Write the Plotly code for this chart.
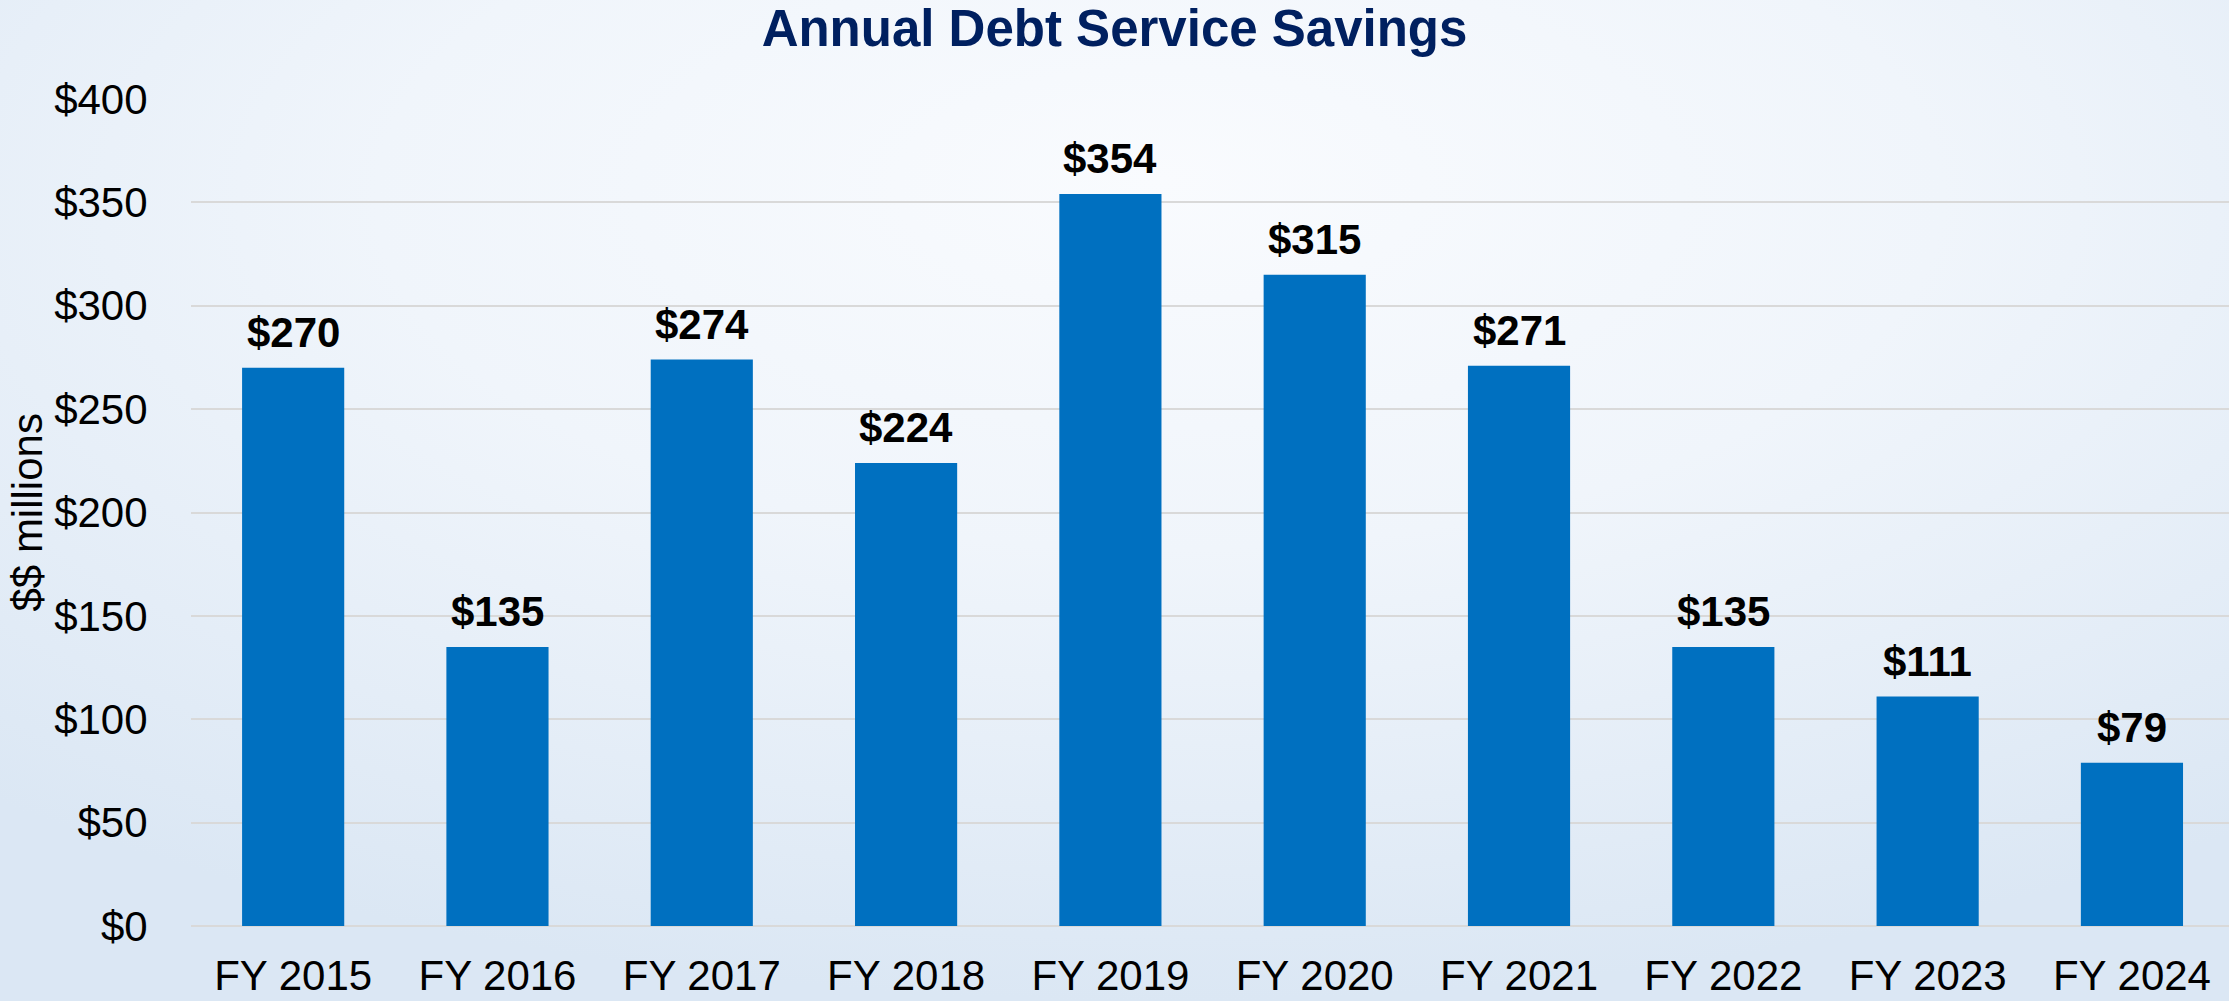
import base64
import plotly.graph_objects as go

categories = ["FY 2015", "FY 2016", "FY 2017", "FY 2018", "FY 2019",
              "FY 2020", "FY 2021", "FY 2022", "FY 2023", "FY 2024"]
savings = [270, 135, 274, 224, 354, 315, 271, 135, 111, 79]
y_ticks = [0, 50, 100, 150, 200, 250, 300, 350, 400]
y_tick_labels = ["$" + str(v) for v in y_ticks]
bar_labels = ["$" + str(v) for v in savings]

W, H = 2229, 1001
ML, MR, MT, MB = 191, 0, 99, 75
PW, PH = W - ML - MR, H - MT - MB

FONT = "Liberation Sans, Arial, Helvetica, sans-serif"

svg = f'''<svg xmlns="http://www.w3.org/2000/svg" width="{W}" height="{H}" viewBox="0 0 {W} {H}" preserveAspectRatio="none">
<defs><radialGradient id="g" cx="0.52" cy="0.22" r="0.78" fx="0.52" fy="0.18">
<stop offset="0" stop-color="#f9fbfe"/>
<stop offset="0.45" stop-color="#f0f5fb"/>
<stop offset="1" stop-color="#dbe7f4"/>
</radialGradient></defs>
<rect width="{W}" height="{H}" fill="url(#g)"/></svg>'''
bg_uri = "data:image/svg+xml;base64," + base64.b64encode(svg.encode()).decode()

fig = go.Figure()
fig.add_trace(go.Bar(
    x=categories, y=savings,
    marker=dict(color="#0070C0", line=dict(width=0)),
    hoverinfo="skip",
))

annotations = []
for c, v, t in zip(categories, savings, bar_labels):
    annotations.append(dict(
        x=c, y=v, xref="x", yref="y", text=t, showarrow=False,
        yanchor="bottom", xanchor="center", yshift=10,
        font=dict(family=FONT, size=42, color="#000000", weight="bold"),
    ))
annotations.append(dict(
    x=0, y=0.5, xref="paper", yref="paper", text="$$ millions",
    showarrow=False, textangle=-90, xanchor="center", yanchor="middle",
    xshift=27 - ML, font=dict(family=FONT, size=42, color="#000000"),
))

fig.update_layout(
    width=W, height=H,
    autosize=False,
    margin=dict(l=ML, r=MR, t=MT, b=MB, pad=0, autoexpand=False),
    paper_bgcolor="#eaf1f9",
    plot_bgcolor="rgba(0,0,0,0)",
    showlegend=False,
    bargap=0.5,
    title=dict(
        text="<b>Annual Debt Service Savings</b>",
        x=0.5, xref="container", xanchor="center",
        y=1 - 10 / H, yref="container", yanchor="top",
        font=dict(family=FONT, size=51, color="#002060"),
        automargin=False,
    ),
    xaxis=dict(
        type="category", range=[-0.5, 9.475], automargin=False,
        showgrid=False, showline=False, zeroline=False,
        ticks="outside", ticklen=13, tickcolor="rgba(0,0,0,0)",
        tickfont=dict(family=FONT, size=42, color="#000000"),
        fixedrange=True,
    ),
    yaxis=dict(
        range=[0, 400], tickmode="array", tickvals=y_ticks, ticktext=y_tick_labels,
        automargin=False,
        showgrid=True, gridcolor="#d9d9d9", gridwidth=2,
        zeroline=True, zerolinecolor="#d9d9d9", zerolinewidth=2,
        showline=False,
        ticks="outside", ticklen=34, tickcolor="rgba(0,0,0,0)",
        tickfont=dict(family=FONT, size=42, color="#000000"),
        fixedrange=True,
    ),
    images=[dict(
        source=bg_uri, xref="paper", yref="paper",
        x=-ML / PW, y=1 + MT / PH, sizex=W / PW, sizey=H / PH,
        xanchor="left", yanchor="top", sizing="stretch", layer="below",
    )],
    annotations=annotations,
)

fig.write_html(
    "out.html",
    config={"displayModeBar": False},
    post_script="document.body.style.margin='0';document.body.style.overflow='hidden';",
)
